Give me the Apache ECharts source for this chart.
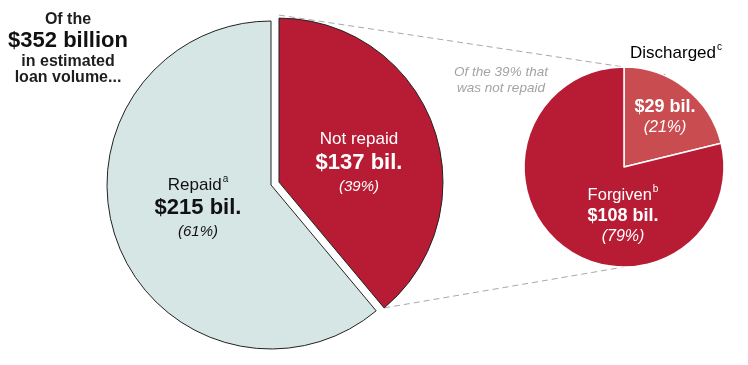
<!DOCTYPE html>
<html>
<head>
<meta charset="utf-8">
<script src="https://cdn.jsdelivr.net/npm/echarts@6/dist/echarts.min.js"></script>
<style>
html,body{margin:0;padding:0;background:#fff;}
#c{width:748px;height:365px;}
</style>
</head>
<body>
<div id="c"></div>
<script>
// ---- data ----
const totalLoanVolume = 352;
const bigCategories = ['Not repaid', 'Repaid'];
const bigValues = [137, 215];
const bigShares = [39, 61];
const bigNotes = ['', 'a'];
const smallCategories = ['Discharged', 'Forgiven'];
const smallValues = [29, 108];
const smallShares = [21, 79];
const smallNotes = ['c', 'b'];
const headerLines = ['Of the', '$' + totalLoanVolume + ' billion', 'in estimated', 'loan volume...'];
const noteLines = ['Of the ' + bigShares[0] + '% that', 'was not repaid'];

// ---- styles ----
const FONT = '"Liberation Sans", Arial, Helvetica, sans-serif';
const RED = '#b81c35';
const LIGHT = '#d6e6e4';
const PINK = '#c94c50';
const BIG = { cx: 271, cy: 185, r: 164, offset: 8.5 };
const SMALL = { cx: 624, cy: 167, r: 100 };

const chart = echarts.init(document.getElementById('c'), null, { renderer: 'canvas' });

const bigTotal = bigValues.reduce((a, b) => a + b, 0);

// exploded "not repaid" slice: shift along its mid angle
const redEndDeg = 360 * bigValues[0] / bigTotal;
const redMidRad = (redEndDeg / 2) * Math.PI / 180;
const offX = BIG.offset * Math.sin(redMidRad);
const offY = -BIG.offset * Math.cos(redMidRad);
const redCenter = [BIG.cx + offX, BIG.cy + offY];
const redTop = [redCenter[0], redCenter[1] - BIG.r];
const redEndRad = redEndDeg * Math.PI / 180;
const redEnd = [redCenter[0] + BIG.r * Math.sin(redEndRad), redCenter[1] - BIG.r * Math.cos(redEndRad)];
const smallTop = [SMALL.cx, SMALL.cy - SMALL.r];
const smallBottom = [SMALL.cx, SMALL.cy + SMALL.r];

const supStyle = { fontSize: 10, verticalAlign: 'top', lineHeight: 14, padding: [0, 0, 0, 1] };
const HIDDEN = { color: 'transparent', borderColor: 'transparent', borderWidth: 0 };

function bigLabel(p) {
  const i = p.dataIndex;
  const sup = bigNotes[i] ? '{s|' + bigNotes[i] + '}' : '';
  return '{n|' + bigCategories[i] + '}' + sup + '\n{v|$' + bigValues[i] + ' bil.}\n{p|(' + bigShares[i] + '%)}';
}
function smallLabel(p) {
  const i = p.dataIndex;
  if (i === 0) return '{v|$' + smallValues[i] + ' bil.}\n{p|(' + smallShares[i] + '%)}';
  return '{n|' + smallCategories[i] + '}{s|' + smallNotes[i] + '}\n{v|$' + smallValues[i] + ' bil.}\n{p|(' + smallShares[i] + '%)}';
}

const bigLabelPos = [[BIG.cx + 88, 163.5], [BIG.cx - 73, 209]];
const smallLabelPos = [[SMALL.cx + 41, 117.5], [SMALL.cx - 1, 216]];

const bigRich = {
  n: { fontFamily: FONT, fontSize: 17, lineHeight: 22 },
  s: Object.assign({ fontFamily: FONT }, supStyle),
  v: { fontFamily: FONT, fontSize: 22, fontWeight: 'bold', lineHeight: 24 },
  p: { fontFamily: FONT, fontSize: 15, fontStyle: 'italic', lineHeight: 24 }
};

function bigSeries(center, shown) {
  return {
    type: 'pie',
    center: center,
    radius: [0, BIG.r],
    startAngle: 90,
    clockwise: true,
    silent: true,
    z: 2,
    itemStyle: { borderColor: '#222', borderWidth: 1 },
    emphasis: { disabled: true },
    label: { show: true, position: 'inside', formatter: bigLabel, rich: bigRich },
    labelLayout: function (p) {
      const pos = bigLabelPos[p.dataIndex];
      return { x: pos[0], y: pos[1], align: 'center', verticalAlign: 'middle' };
    },
    data: bigCategories.map((name, i) => ({
      name: name,
      value: bigValues[i],
      itemStyle: i === shown ? { color: i === 0 ? RED : LIGHT } : HIDDEN,
      label: i === shown ? { color: i === 0 ? '#fff' : '#111' } : { show: false }
    }))
  };
}

const option = {
  backgroundColor: '#fff',
  animation: false,
  graphic: [
    { type: 'line', z: 0, shape: { x1: redTop[0], y1: redTop[1] - 3, x2: smallTop[0], y2: smallTop[1] },
      style: { stroke: '#a8a8a8', lineWidth: 1, lineDash: [6, 4] }, silent: true },
    { type: 'line', z: 0, shape: { x1: redEnd[0], y1: redEnd[1], x2: smallBottom[0], y2: smallBottom[1] },
      style: { stroke: '#a8a8a8', lineWidth: 1, lineDash: [6, 4] }, silent: true },
    { type: 'text', x: 68, y: 19.5, style: { text: headerLines[0], font: 'bold 16px ' + FONT, fill: '#1e1e1e', align: 'center', verticalAlign: 'middle' } },
    { type: 'text', x: 68, y: 40.5, style: { text: headerLines[1], font: 'bold 22px ' + FONT, fill: '#111', align: 'center', verticalAlign: 'middle' } },
    { type: 'text', x: 68, y: 61.5, style: { text: headerLines[2], font: 'bold 16px ' + FONT, fill: '#1e1e1e', align: 'center', verticalAlign: 'middle' } },
    { type: 'text', x: 68, y: 77.5, style: { text: headerLines[3], font: 'bold 16px ' + FONT, fill: '#1e1e1e', align: 'center', verticalAlign: 'middle' } },
    { type: 'text', x: 501, y: 72, style: { text: noteLines[0], font: 'italic 13.5px ' + FONT, fill: '#a3a3a3', align: 'center', verticalAlign: 'middle' } },
    { type: 'text', x: 501, y: 88, style: { text: noteLines[1], font: 'italic 13.5px ' + FONT, fill: '#a3a3a3', align: 'center', verticalAlign: 'middle' } },
    { type: 'text', x: 676, y: 53, style: {
        text: '{n|' + smallCategories[0] + '}{s|' + smallNotes[0] + '}',
        align: 'center', verticalAlign: 'middle',
        rich: {
          n: { fontFamily: FONT, fontSize: 17, color: '#111', lineHeight: 22 },
          s: Object.assign({ fontFamily: FONT, color: '#111' }, supStyle)
        } } }
  ],
  series: [
    bigSeries([BIG.cx, BIG.cy], 1),
    bigSeries(redCenter, 0),
    {
      type: 'pie',
      center: [SMALL.cx, SMALL.cy],
      radius: [0, SMALL.r],
      startAngle: 90,
      clockwise: true,
      silent: true,
      z: 2,
      itemStyle: { borderColor: '#fff', borderWidth: 1.5 },
      emphasis: { disabled: true },
      label: {
        show: true, position: 'inside', formatter: smallLabel, color: '#fff',
        rich: {
          n: { fontFamily: FONT, fontSize: 16.5, lineHeight: 21, color: '#fff' },
          s: Object.assign({ fontFamily: FONT, color: '#fff' }, supStyle),
          v: { fontFamily: FONT, fontSize: 18, fontWeight: 'bold', lineHeight: 21, color: '#fff' },
          p: { fontFamily: FONT, fontSize: 16, fontStyle: 'italic', lineHeight: 21, color: '#fff' }
        }
      },
      labelLayout: function (p) {
        const pos = smallLabelPos[p.dataIndex];
        return { x: pos[0], y: pos[1], align: 'center', verticalAlign: 'middle' };
      },
      data: smallCategories.map((name, i) => ({
        name: name,
        value: smallValues[i],
        itemStyle: { color: i === 0 ? PINK : RED }
      }))
    }
  ]
};
chart.setOption(option);
</script>
</body>
</html>
